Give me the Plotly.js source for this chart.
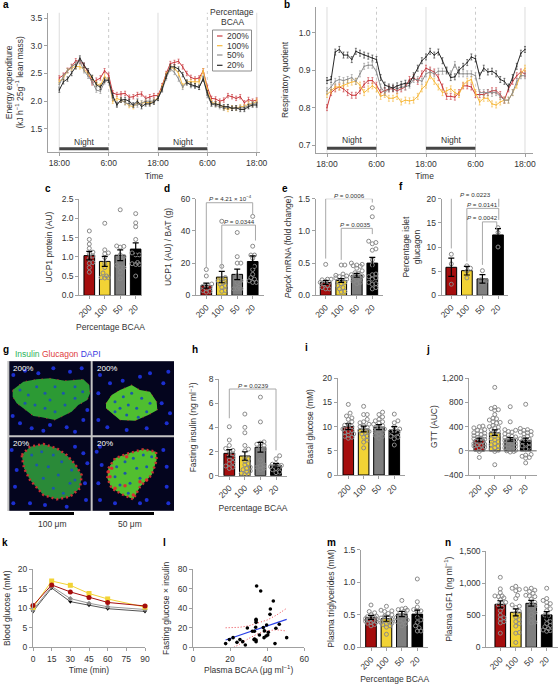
<!DOCTYPE html>
<html><head><meta charset="utf-8">
<script src="https://cdn.plot.ly/plotly-3.0.1.min.js"></script>
<style>html,body{margin:0;padding:0;background:#fff}</style></head>
<body><div id="chart" style="width:558px;height:685px"></div>
<script>
// ---------- data ----------
const hours=Array.from({length:49},(_,i)=>i);
const timeTicks=[0,12,24,36,48], timeLabels=['18:00','6:00','18:00','6:00','18:00'];
const nightStart=[0,24], nightEnd=[12,36];
const seriesNames=['200%','100%','50%','20%'];
const categories=['200','100','50','20'];

const aRed=[2.42,2.47,2.56,2.63,2.73,2.72,2.65,2.52,2.33,2.38,2.42,2.55,2.47,2.15,2.12,2.13,2.14,2.07,2.08,2.12,2.13,2.05,2.08,2.10,2.10,2.28,2.50,2.68,2.70,2.72,2.62,2.50,2.43,2.40,2.42,2.55,2.25,2.05,2.04,2.00,2.02,2.10,2.08,2.05,2.08,1.97,2.03,2.00,2.02];
const aYellow=[2.35,2.42,2.55,2.60,2.63,2.62,2.58,2.50,2.42,2.32,2.28,2.45,2.38,2.00,2.05,2.02,1.98,1.92,1.90,1.97,1.96,1.98,1.97,2.00,2.07,2.25,2.48,2.60,2.60,2.50,2.28,2.35,2.35,2.35,2.35,2.55,2.20,1.98,1.95,1.93,1.88,1.85,1.88,1.87,1.90,1.90,1.95,1.95,2.00];
const aGray=[2.30,2.45,2.55,2.62,2.68,2.72,2.55,2.45,2.35,2.20,2.18,2.35,2.38,2.05,1.95,2.02,1.97,1.95,1.93,1.93,1.97,2.00,2.00,2.00,2.05,2.20,2.42,2.58,2.52,2.40,2.25,2.35,2.28,2.27,2.25,2.42,2.10,1.95,1.93,1.90,1.87,1.90,1.87,1.87,1.88,1.88,1.92,1.95,1.95];
const aBlack=[2.20,2.35,2.40,2.50,2.62,2.78,2.65,2.55,2.43,2.30,2.25,2.38,2.38,2.10,1.93,2.02,2.03,2.00,1.93,2.00,1.90,1.95,1.95,1.98,2.05,2.22,2.45,2.62,2.62,2.58,2.48,2.33,2.30,2.28,2.25,2.40,2.15,1.95,1.95,1.93,1.90,1.90,1.87,1.88,1.85,1.85,1.90,1.93,1.93];
const bRed=[.80,.84,.85,.855,.85,.84,.833,.833,.845,.862,.872,.872,.86,.84,.845,.85,.85,.845,.85,.855,.875,.88,.87,.89,.905,.90,.895,.88,.855,.83,.83,.828,.84,.858,.858,.855,.835,.835,.835,.84,.845,.845,.835,.82,.85,.87,.885,.895,.89];
const bYellow=[.835,.845,.855,.855,.86,.865,.868,.87,.86,.84,.85,.858,.85,.83,.835,.825,.825,.83,.815,.82,.818,.82,.83,.85,.86,.885,.87,.855,.84,.845,.85,.84,.835,.86,.87,.875,.84,.815,.825,.825,.81,.807,.815,.82,.82,.84,.86,.89,.905];
const bGray=[.845,.855,.87,.875,.872,.875,.88,.87,.89,.91,.913,.913,.895,.855,.84,.85,.855,.85,.855,.855,.86,.875,.875,.87,.89,.895,.89,.897,.897,.897,.89,.915,.89,.89,.89,.89,.885,.84,.84,.84,.838,.84,.83,.82,.82,.84,.87,.885,.885];
const bBlack=[.872,.875,.948,.955,.94,.94,.928,.95,.945,.94,.937,.932,.928,.88,.86,.855,.852,.858,.862,.865,.865,.885,.905,.925,.935,.95,.94,.948,.925,.90,.88,.882,.90,.91,.92,.935,.93,.885,.905,.895,.897,.89,.875,.87,.855,.88,.91,.945,.955];
const aError=.04, bError=.008;

const cVals=[1.03,.88,1.04,1.20], cErr=[.11,.13,.14,.16];
const cPts=[[1.67,1.45,1.33,1.22,1.12,1.08,1.02,.95,.85,.83,.72,.6],[1.87,1.18,1.10,1.08,.98,.83,.72,.58,.50,.46,.46,.45],[2.22,1.28,1.27,1.25,1.05,1.0,.95,.78,.72,.72,.6,.43],[2.12,1.88,1.78,1.45,1.1,1.05,1.05,.85,.82,.8,.8,.5]];
const dVals=[6,11.3,13,21], dErr=[1.5,3.5,3.3,3.5];
const dPts=[[16,12,7,6,5.5,5,4,3,2.5,2],[46,18,11,10,9,8,7,6,5,3,2.5],[39,24,20,20,12,10,9,8,5,4,4,4],[49,30.5,25,25,23,18,16,13,11,10,9,8,8]];
const ePvals=[.20,.23,.31,.50], eErr=[.03,.03,.03,.09];
const ePts=[[.48,.25,.25,.24,.22,.2,.2,.18,.15,.12,.1,.1],[.47,.47,.33,.31,.3,.29,.28,.27,.25,.24,.22,.2,.18,.15,.12,.1,.06,.05],[.5,.48,.47,.46,.45,.42,.38,.35,.34,.32,.3,.3,.28,.27,.25,.22,.2,.18],[1.36,1.22,.84,.82,.8,.72,.7,.55,.47,.33,.32,.29,.27,.25,.2,.18,.17,.12,.1]];
const fVals=[5.8,5.1,3.4,12.5], fErr=[1.9,.9,.9,1.3];
const fPts=[[8.5,6.5,2.3],[6.1,5.6,5,3.6],[5.1,3.2,3,2.5],[14,13,10]];
const hVals=[1.85,1.63,2.35,.85], hErr=[.3,.35,.4,.15];
const hPts=[[4.05,2.95,2.5,2.25,2.1,2.0,1.8,1.6,1.5,1.3,1.1,1.0,.8,.7,.6],[5.1,4,3.55,2.5,2.2,2.05,1.5,1.4,1.2,1.0,.9,.7,.6,.5,.4,.3,.2,.1,.1],[6.5,4.45,2.8,2.7,2.6,2.5,2.4,2.2,2.0,1.3,.9,.8,.7,.6,.5],[1.65,1.4,1.0,.95,.9,.85,.8,.75,.7,.6,.5,.3,.25]];
const iVals=[10,9.5,9.9,9.3], iErr=[.6,.6,.5,.7];
const iPts=[[14.6,12.8,12.2,11.8,11.5,11,10.5,10.3,10,9.8,9.5,9.2,9,8.8,8.5,8.2,8,7.8,7.6],[14.2,12.5,12.5,11.5,11,10.8,10.5,10.2,10,9.8,9.5,9.2,9,8.8,8.5,8,7.8,7.2,6.8,5.6],[13,12.5,12,11.5,11.2,11,10.8,10.5,10.2,10,9.8,9.5,9.2,9,8.8,8.5,8.2,8,7.6],[12.6,11.2,10.8,10,9.5,9.2,9,8.8,8.5,8,7.8,7.5,6.2]];
const jVals=[180,300,190,175], jErr=[30,45,30,35];
const jPts=[[410,400,380,350,340,330,300,290,280,270,250,240,220,210,200,190,180,160,150,130,120,110,100,90,80,60,50,30,20,-10,-110],[1050,720,700,680,670,600,540,530,510,480,470,460,420,400,390,380,350,330,300,280,260,240,200,180,150,120,100,80,50,30,10,-10,-230],[730,480,350,340,320,310,280,260,240,230,220,210,190,180,170,150,140,120,110,100,80,70,50,40,20,10,0,-10,-20],[770,370,350,340,320,310,300,280,260,240,220,200,190,180,150,130,110,80,60,30,-60,-70,-90,-110,-120,-200]];
const mVals=[.46,.44,.51,.51], mErr=[.03,.04,.04,.06];
const mPts=[[.65,.55,.53,.5,.48,.47,.46,.45,.44,.43,.42,.41,.4,.39,.38,.37,.35,.33],[.63,.57,.56,.55,.52,.5,.48,.46,.45,.43,.42,.4,.38,.37,.36,.35,.33,.31,.2],[.72,.6,.59,.58,.57,.55,.53,.5,.48,.46,.43,.42,.41,.4,.38,.36,.33],[1.05,.7,.62,.58,.56,.55,.46,.42,.38,.33,.3,.25,.25]];
const nVals=[670,545,685,505], nErr=[55,55,45,50];
const nPts=[[1090,910,850,800,800,790,770,740,700,680,660,620,570,500,460,440,400,380,220],[950,920,900,880,810,760,660,640,620,560,530,470,430,400,370,330,230,220,75],[920,910,890,870,840,810,800,790,750,700,690,640,610,540,510,450,390,380],[920,760,730,700,680,640,600,570,500,490,440,400,370,340,320,290,270,260,250]];

const kTime=[0,15,30,45,60,90];
const kRed=[10.7,16,14.2,12.8,11.5,10.6], kYellow=[10.2,17,15.9,13.8,12.4,10.3], kGray=[9.6,15.6,12.5,11.3,10.4,9.7], kBlack=[9.2,15.2,11.7,10.8,9.9,9.2];
const lBcaa=[17.6,19.6,21.6,23.7,25.3,26.8,28.2,29.3,32,33.1,34.3,36.5,34,34,34,33.8,33.2,34,34,32.9,35.8,37.9,38.5,39.7,38.3,39.4,40.3,40.6,43.3,41.7,41.5,44.2,44.7,46.5,50.5];
const lInsulin=[3.8,7.9,9.9,5.1,7.9,5.8,2.4,19.8,16.4,16.4,62.9,57.8,28.7,27.4,25.6,20.5,8.5,7.5,5.8,7.9,12.6,20.2,16.8,22.9,9.9,11.6,12.6,15.4,47.5,39.3,33.8,3.8,19.5,23.6,9.9];
const lFitX=[17.6,50.5], lFitY=[7.5,28.7];
const lCiX=[17.6,25,30,35,40,45,50.5], lCiUp=[20,20.5,22,25,28,33,40], lCiLowX=[22,25,30,35,40,45,50.5], lCiLow=[0,3,9,14,17,18,16.7];

// islet micrograph sketch (traced shapes, in picture units)
const blob1=[[38,150],[70,125],[110,118],[150,115],[195,122],[250,118],[268,135],[270,160],[262,180],[235,195],[215,215],[190,228],[165,240],[125,232],[100,228],[70,205],[50,190],[38,170],[38,150]];
const blob2=[[318,190],[335,165],[360,150],[395,135],[420,150],[450,155],[470,185],[472,210],[445,225],[405,242],[360,240],[335,220],[318,205],[318,190]];
const blob3=[[65,345],[90,320],[130,312],[170,325],[200,345],[225,372],[245,405],[240,445],[210,470],[170,478],[130,465],[90,420],[72,385],[65,345]];
const blob4=[[325,385],[345,355],[385,340],[430,328],[468,335],[470,360],[455,405],[420,440],[400,478],[370,465],[335,445],[322,415],[325,385]];
const nucOut=[[40,105],[75,92],[115,100],[160,85],[210,95],[245,85],[60,250],[95,265],[130,272],[200,262],[250,240],[262,210],[38,228],[225,275],[150,255],
[300,105],[368,122],[330,130],[420,110],[490,130],[505,95],[295,240],[322,262],[380,270],[440,265],[500,250],[485,190],[450,100],[510,220],[295,160],
[35,330],[45,440],[40,490],[90,490],[135,495],[250,340],[225,320],[262,370],[258,480],[200,500],[50,390],[255,430],
[290,335],[305,375],[295,430],[300,480],[345,490],[440,480],[500,440],[500,380],[490,330],[420,490],[300,320],[505,490]];
const nucIn=[[60,150],[85,165],[110,140],[135,160],[165,140],[190,160],[225,140],[248,155],[75,190],[105,195],[135,205],[165,215],[195,195],[225,175],[150,180],
[345,185],[370,170],[395,160],[425,175],[450,190],[360,205],[385,195],[410,205],[440,215],[380,225],[345,215],[415,232],
[95,345],[125,335],[160,345],[185,365],[215,390],[110,375],[145,380],[175,405],[130,415],[210,430],[160,445],[190,460],[225,420],
[350,380],[375,365],[400,355],[430,345],[455,350],[345,410],[375,400],[410,385],[440,380],[360,435],[390,430],[420,415],[385,460]];
const redOut=[[335,385],[330,410],[345,445],[375,437],[420,425],[440,420],[380,350],[325,395],[400,465]];

// ---------- helpers ----------
const W=558,H=685,FONT='"Liberation Sans",Arial,sans-serif',TXT='#333',AXC='#a0a0a0';
const COL={red:'#a50d0d',yellow:'#f2d335',gray:'#7f7f7f',black:'#000000'};
const barColors=[COL.red,COL.yellow,COL.gray,COL.black];
const traces=[],layout={width:W,height:H,margin:{l:0,r:0,t:0,b:0},paper_bgcolor:'#fff',plot_bgcolor:'rgba(0,0,0,0)',showlegend:false,bargap:.31,font:{family:FONT,size:8.5,color:TXT},shapes:[],annotations:[]};

function ax(n,box,xr,yr,xo,yo){
  const base={showline:true,linecolor:AXC,linewidth:1,ticks:'outside',ticklen:3,tickcolor:AXC,tickwidth:1,zeroline:false,showgrid:false,tickfont:{size:8.5,color:TXT,family:FONT}};
  const sx=n===1?'':n;
  layout['xaxis'+sx]=Object.assign({},base,{domain:[box.l/W,box.r/W],range:xr,anchor:'y'+sx},xo);
  layout['yaxis'+sx]=Object.assign({},base,{domain:[1-box.b/H,1-box.t/H],range:yr,anchor:'x'+sx},yo);
  return {x:'x'+sx,y:'y'+sx};
}
function ttl(text,standoff){return {text,standoff,font:{size:8.5,color:TXT,family:FONT}};}
function note(x,y,text,o){layout.annotations.push(Object.assign({xref:'paper',yref:'paper',x:x/W,y:1-y/H,text,showarrow:false,xanchor:'center',yanchor:'middle',font:{size:8.5,color:TXT,family:FONT}},o||{}));}
function letter(x,y,t){note(x,y,'<b>'+t+'</b>',{xanchor:'left',font:{size:10,color:'#000',family:FONT}});}
function pval(x,y,text){note(x,y,text,{font:{size:6.2,color:TXT,family:FONT}});}

function swarm(vals,pxPerUnit,pitch){
  const dia=3.6,pts=vals.map(v=>({v})).sort((a,b)=>a.v-b.v),done=[];
  const slots=[0,1.8,-1.8,3.6,-3.6,5.4,-5.4];
  for(const p of pts){
    let best=0,bd=-1;
    for(const s of slots){
      let m=1e9;
      for(const q of done){m=Math.min(m,Math.hypot(q.s-s,(q.v-p.v)*pxPerUnit));}
      if(m>=dia){best=s;bd=1e9;break;}
      if(m>bd){bd=m;best=s;}
    }
    p.s=best;done.push(p);
  }
  return done.map(p=>({x:p.s/pitch,y:p.v}));
}
function barPanel(n,o){
  const pitch=(o.last-o.first)/3;
  const box={l:o.l,r:o.r,t:o.t,b:o.b};
  const xr=[(o.l-o.first)/pitch,(o.r-o.first)/pitch];
  const A=ax(n,box,xr,o.yr,Object.assign({tickvals:[0,1,2,3],ticktext:categories,tickangle:-45,title:o.xt?ttl(o.xt,o.xs):undefined}),
    {tickvals:o.yt,tickformat:o.yf||'',title:ttl(o.yl,o.ys)});
  const idx=[0,1,2,3];
  traces.push({type:'bar',x:idx,y:o.v,xaxis:A.x,yaxis:A.y,marker:{color:barColors,line:{color:'#000',width:1}},hoverinfo:'skip'});
  const ppu=(o.b-o.t)/(o.yr[1]-o.yr[0]);
  const X=[],Y=[];
  o.p.forEach((g,i)=>swarm(g,ppu,pitch).forEach(d=>{X.push(i+d.x);Y.push(d.y);}));
  traces.push({type:'scatter',mode:'markers',x:X,y:Y,xaxis:A.x,yaxis:A.y,cliponaxis:false,marker:{symbol:'circle-open',size:4,color:'#8a8a8a',line:{width:1,color:'#8a8a8a'}},hoverinfo:'skip'});
  traces.push({type:'scatter',mode:'markers',x:idx,y:o.v,xaxis:A.x,yaxis:A.y,marker:{size:1,color:'#000',opacity:0},error_y:{type:'data',array:o.e,color:'#000',thickness:1.2,width:3},hoverinfo:'skip'});
  (o.br||[]).forEach(b=>traces.push({type:'scatter',mode:'lines',x:[b[0],b[0],b[1],b[1]],y:[b[2],b[3],b[3],b[4]],xaxis:A.x,yaxis:A.y,cliponaxis:false,line:{color:'#a8a8a8',width:1},hoverinfo:'skip'}));
  return A;
}
function timeSeries(n,o){
  const xr=[(o.l-o.x0)/o.pph,(o.r-o.x0)/o.pph];
  const A=ax(n,o,xr,o.yr,{tickvals:timeTicks,ticktext:timeLabels,title:ttl('Time',o.xs)},{tickvals:o.yt,tickformat:o.yf,title:ttl(o.yl,o.ys)});
  timeTicks.forEach((t,i)=>layout.shapes.push({type:'line',layer:'below',xref:A.x,yref:A.y+' domain',x0:t,x1:t,y0:0,y1:1,line:i%2?{color:'#bdbdbd',width:.8,dash:'dot'}:{color:'#e2e2e2',width:1.2}}));
  nightStart.forEach((s,i)=>{
    layout.shapes.push({type:'rect',xref:A.x,yref:A.y,x0:s,x1:nightEnd[i],y0:o.night[0],y1:o.night[1],fillcolor:'#454545',line:{width:0}});
    layout.annotations.push({xref:A.x,yref:A.y,x:(s+nightEnd[i])/2,y:o.night[2],text:'Night',showarrow:false,font:{size:8.5,color:TXT,family:FONT}});
  });
  const cols=['#c9393e','#f6b93f','#8e8e8e','#2a2a2a'];
  o.s.forEach((ys,i)=>traces.push({type:'scatter',mode:'lines+markers',name:seriesNames[i],x:hours,y:ys,xaxis:A.x,yaxis:A.y,line:{color:cols[i],width:1},marker:{size:1.5,color:cols[i]},error_y:{type:'constant',value:o.err,color:cols[i],thickness:.6,width:1},hoverinfo:'skip'}));
}

// ---------- panels ----------
timeSeries(1,{l:48,r:260,t:12.7,b:152,x0:59.3,pph:4.1125,yr:[1.08,3.6],yt:[1.5,2,2.5,3,3.5],yf:'.1f',yl:'Energy expenditure<br>(kJ h<sup>−1</sup> 25g<sup>−1</sup> lean mass)',ys:5,xs:5,s:[aRed,aYellow,aGray,aBlack],err:aError,night:[1.11,1.165,1.265]});
timeSeries(2,{l:316.3,r:533,t:7,b:152.7,x0:327,pph:4.125,yr:[.68,1.068],yt:[.7,.8,.9,1],yf:'.1f',yl:'Respiratory quotient',ys:8,xs:5,s:[bRed,bYellow,bGray,bBlack],err:bError,night:[.688,.696,.714]});

// legend of a
const LC=['#c9393e','#f6b93f','#8e8e8e','#2a2a2a'],LY=[36,45.7,55,65.3];
layout.shapes.push({type:'rect',xref:'paper',yref:'paper',x0:212.5/W,x1:251.5/W,y0:1-30/H,y1:1-71/H,line:{color:'#8c8c8c',width:1},fillcolor:'rgba(255,255,255,0)'});
seriesNames.forEach((s,i)=>{
  layout.shapes.push({type:'line',xref:'paper',yref:'paper',x0:217/W,x1:222.5/W,y0:1-LY[i]/H,y1:1-LY[i]/H,line:{color:LC[i],width:1.2}});
  note(224.5,LY[i],s,{xanchor:'left'});
});
note(232,12.3,'Percentage');note(232,22.3,'BCAA');

barPanel(3,{l:79.3,r:141.7,t:199,b:295.3,first:89.3,last:135.7,yr:[0,2.5],yt:[0,.5,1,1.5,2,2.5],yf:'.1f',yl:'UCP1 protein (AU)',ys:7,xt:'Percentage BCAA',xs:5,v:cVals,e:cErr,p:cPts});
barPanel(4,{l:196,r:264,t:198.7,b:295.3,first:206.3,last:252.7,yr:[0,60],yt:[0,20,40,60],yl:'UCP1 (AU) / BAT (g)',ys:7,v:dVals,e:dErr,p:dPts,
  br:[[0,3,17,57.5,50],[1,3.18,16,43.6,34]]});
pval(230,197.7,'<i>P</i> = 4.21 × 10<sup>−4</sup>');pval(239,221.5,'<i>P</i> = 0.0344');
barPanel(5,{l:315.7,r:383,t:198.7,b:295.3,first:325.7,last:372.3,yr:[0,1.5],yt:[0,.5,1,1.5],yf:'.1f',yl:'<i>Pepck</i> mRNA (fold change)',ys:5,v:ePvals,e:eErr,p:ePts,
  br:[[0,3,.57,1.5,1.44],[1,3,.55,1.04,.95]]});
pval(349,195,'<i>P</i> = 0.0006');pval(355,224,'<i>P</i> = 0.0035');
barPanel(6,{l:441.7,r:508,t:198.7,b:295.3,first:451.3,last:498,yr:[0,20],yt:[0,5,10,15,20],yl:'Percentage islet<br>glucagon',ys:4,v:fVals,e:fErr,p:fPts,
  br:[[0,3.05,9.7,20.3,18.3],[1,3.05,7,18,15.6],[2,2.92,6.3,15.2,13.5]]});
pval(476,194,'<i>P</i> = 0.0223');pval(482,204,'<i>P</i> = 0.0141');pval(482,217.7,'<i>P</i> = 0.0042');

// g: islet micrographs
const G=ax(7,{l:0,r:174,t:361,b:511},[0,522],[513,63],{visible:false},{visible:false});
[[28,272,64,286],[278,522,64,286],[28,272,292,512],[278,522,292,512]].forEach(r=>{
  layout.shapes.push({type:'rect',layer:'below',xref:G.x,yref:G.y,x0:r[0],x1:r[1],y0:r[2],y1:r[3],fillcolor:'#04051e',line:{width:0}});
});
layout.shapes.push({type:'rect',layer:'below',xref:G.x,yref:G.y,x0:22,x1:522,y0:62,y1:514,fillcolor:'#c4c4c4',line:{width:0}});
layout.shapes.unshift(layout.shapes.pop());
[[88,222],[328,462]].forEach(r=>layout.shapes.push({type:'rect',xref:'paper',yref:'paper',x0:r[0]/3/W,x1:r[1]/3/W,y0:1-512/H,y1:1-515/H,fillcolor:'#000',line:{width:0}}));
const greens=['#2c9a34','#4fbe30','#2a8a38','#52bf2f'];
[blob1,blob2,blob3,blob4].forEach((b,i)=>traces.push({type:'scatter',mode:'lines',fill:'toself',x:b.map(p=>p[0]),y:b.map(p=>p[1]),xaxis:G.x,yaxis:G.y,fillcolor:greens[i],
  line:i<2?{color:'#c43030',width:1,dash:'1px,7px'}:{color:'#c83030',width:2.5,dash:'2px,3px'},hoverinfo:'skip'}));
traces.push({type:'scatter',mode:'markers',x:nucOut.map(p=>p[0]),y:nucOut.map(p=>p[1]),xaxis:G.x,yaxis:G.y,marker:{size:4,color:'#1c2fd0'},hoverinfo:'skip'});
traces.push({type:'scatter',mode:'markers',x:nucIn.map(p=>p[0]),y:nucIn.map(p=>p[1]),xaxis:G.x,yaxis:G.y,marker:{size:3,color:'#1c58a8'},hoverinfo:'skip'});
traces.push({type:'scatter',mode:'markers',x:redOut.map(p=>p[0]),y:redOut.map(p=>p[1]),xaxis:G.x,yaxis:G.y,marker:{size:3.5,color:'#d83030'},hoverinfo:'skip'});
note(11,368.5,'200%',{xanchor:'left',font:{size:8,color:'#fff',family:FONT}});
note(94.5,368.5,'200%',{xanchor:'left',font:{size:8,color:'#fff',family:FONT}});
note(11,443,'20%',{xanchor:'left',font:{size:8,color:'#fff',family:FONT}});
note(94.5,443,'20%',{xanchor:'left',font:{size:8,color:'#fff',family:FONT}});
note(13,354.5,'<span style="color:#2fb45a">Insulin</span> <span style="color:#e04040">Glucagon</span> <span style="color:#3a3ae0">DAPI</span>',{xanchor:'left',font:{size:8.5,color:TXT,family:FONT}});
note(52,524,'100 μm');note(130,524,'50 μm');

barPanel(8,{l:219.3,r:286.7,t:379,b:475.7,first:229.3,last:276,yr:[0,8],yt:[0,2,4,6,8],yl:'Fasting insulin (ng ml<sup>−1</sup>)',ys:10,xt:'Percentage BCAA',xs:5,v:hVals,e:hErr,p:hPts,br:[[0,3,4.75,7.17,2.1]]});
pval(253.5,385,'<i>P</i> = 0.0239');
barPanel(9,{l:337.7,r:405,t:378.3,b:475,first:348.3,last:394.3,yr:[0,20],yt:[0,5,10,15,20],yl:'Basal glucose (mM)',ys:7,v:iVals,e:iErr,p:iPts});
const J=barPanel(10,{l:469,r:536.7,t:378.3,b:475,first:479.3,last:525.7,yr:[-400,1200],yt:[-400,0,400,800,1200],yf:',d',yl:'GTT (AUC)',ys:3,v:jVals,e:jErr,p:jPts});
layout.shapes.push({type:'line',xref:J.x+' domain',yref:J.y,x0:0,x1:1,y0:0,y1:0,line:{color:'#666',width:1}});

// k
const K=ax(11,{l:33,r:145,t:569.3,b:647.3},[0,90],[0,20],{tickvals:[0,15,30,45,60,75,90],title:ttl('Time (min)',4)},{tickvals:[0,5,10,15,20],title:ttl('Blood glucose (mM)',5)});
[[kBlack,'#555','#000','triangle-down',4],[kGray,'#999','#888','diamond',4],[kYellow,'#f2d335','#f2d335','square',5],[kRed,'#a50d0d','#a50d0d','circle',5]].forEach(s=>
  traces.push({type:'scatter',mode:'lines+markers',x:kTime,y:s[0],xaxis:K.x,yaxis:K.y,cliponaxis:false,line:{color:s[1],width:1},marker:{color:s[2],symbol:s[3],size:s[4]},hoverinfo:'skip'}));
// l
const L=ax(12,{l:193,r:304.3,t:569.3,b:647.3},[0,60],[0,80],{tickvals:[0,20,40,60],title:ttl('Plasma BCAA (μg ml<sup>−1</sup>)',4)},{tickvals:[0,20,40,60,80],title:ttl('Fasting glucose × insulin',6)});
traces.push({type:'scatter',mode:'lines',x:lCiX,y:lCiUp,xaxis:L.x,yaxis:L.y,line:{color:'#e8404a',width:1,dash:'1px,2px'},hoverinfo:'skip'});
traces.push({type:'scatter',mode:'lines',x:lCiLowX,y:lCiLow,xaxis:L.x,yaxis:L.y,line:{color:'#e8404a',width:1,dash:'1px,2px'},hoverinfo:'skip'});
traces.push({type:'scatter',mode:'lines',x:lFitX,y:lFitY,xaxis:L.x,yaxis:L.y,line:{color:'#2a40e8',width:1.2},hoverinfo:'skip'});
traces.push({type:'scatter',mode:'markers',x:lBcaa,y:lInsulin,xaxis:L.x,yaxis:L.y,marker:{color:'#000',size:3.6},hoverinfo:'skip'});

barPanel(13,{l:361,r:428.3,t:549.7,b:647.3,first:371,last:417.3,yr:[0,1.5],yt:[0,.5,1,1.5],yf:'.1f',yl:'Plasma triglycerides (mM)',ys:7,xt:'Percentage BCAA',xs:5,v:mVals,e:mErr,p:mPts});
barPanel(14,{l:486.3,r:557.5,t:551,b:647.3,first:500.3,last:546.7,yr:[0,1500],yt:[0,500,1000,1500],yf:',d',yl:'Plasma IGF1 (ng ml<sup>−1</sup>)',ys:5,v:nVals,e:nErr,p:nPts});

[[1,5,'a'],[282,5,'b'],[43,188,'c'],[162,188,'d'],[280,188,'e'],[397,187,'f'],[1,349,'g'],[190,349,'h'],[303,348,'i'],[424,349,'j'],[0,542,'k'],[161,542,'l'],[325,542,'m'],[443,542,'n']].forEach(a=>letter(a[0],a[1],a[2]));

Plotly.newPlot('chart',traces,layout,{displayModeBar:false,staticPlot:true});
</script></body></html>
